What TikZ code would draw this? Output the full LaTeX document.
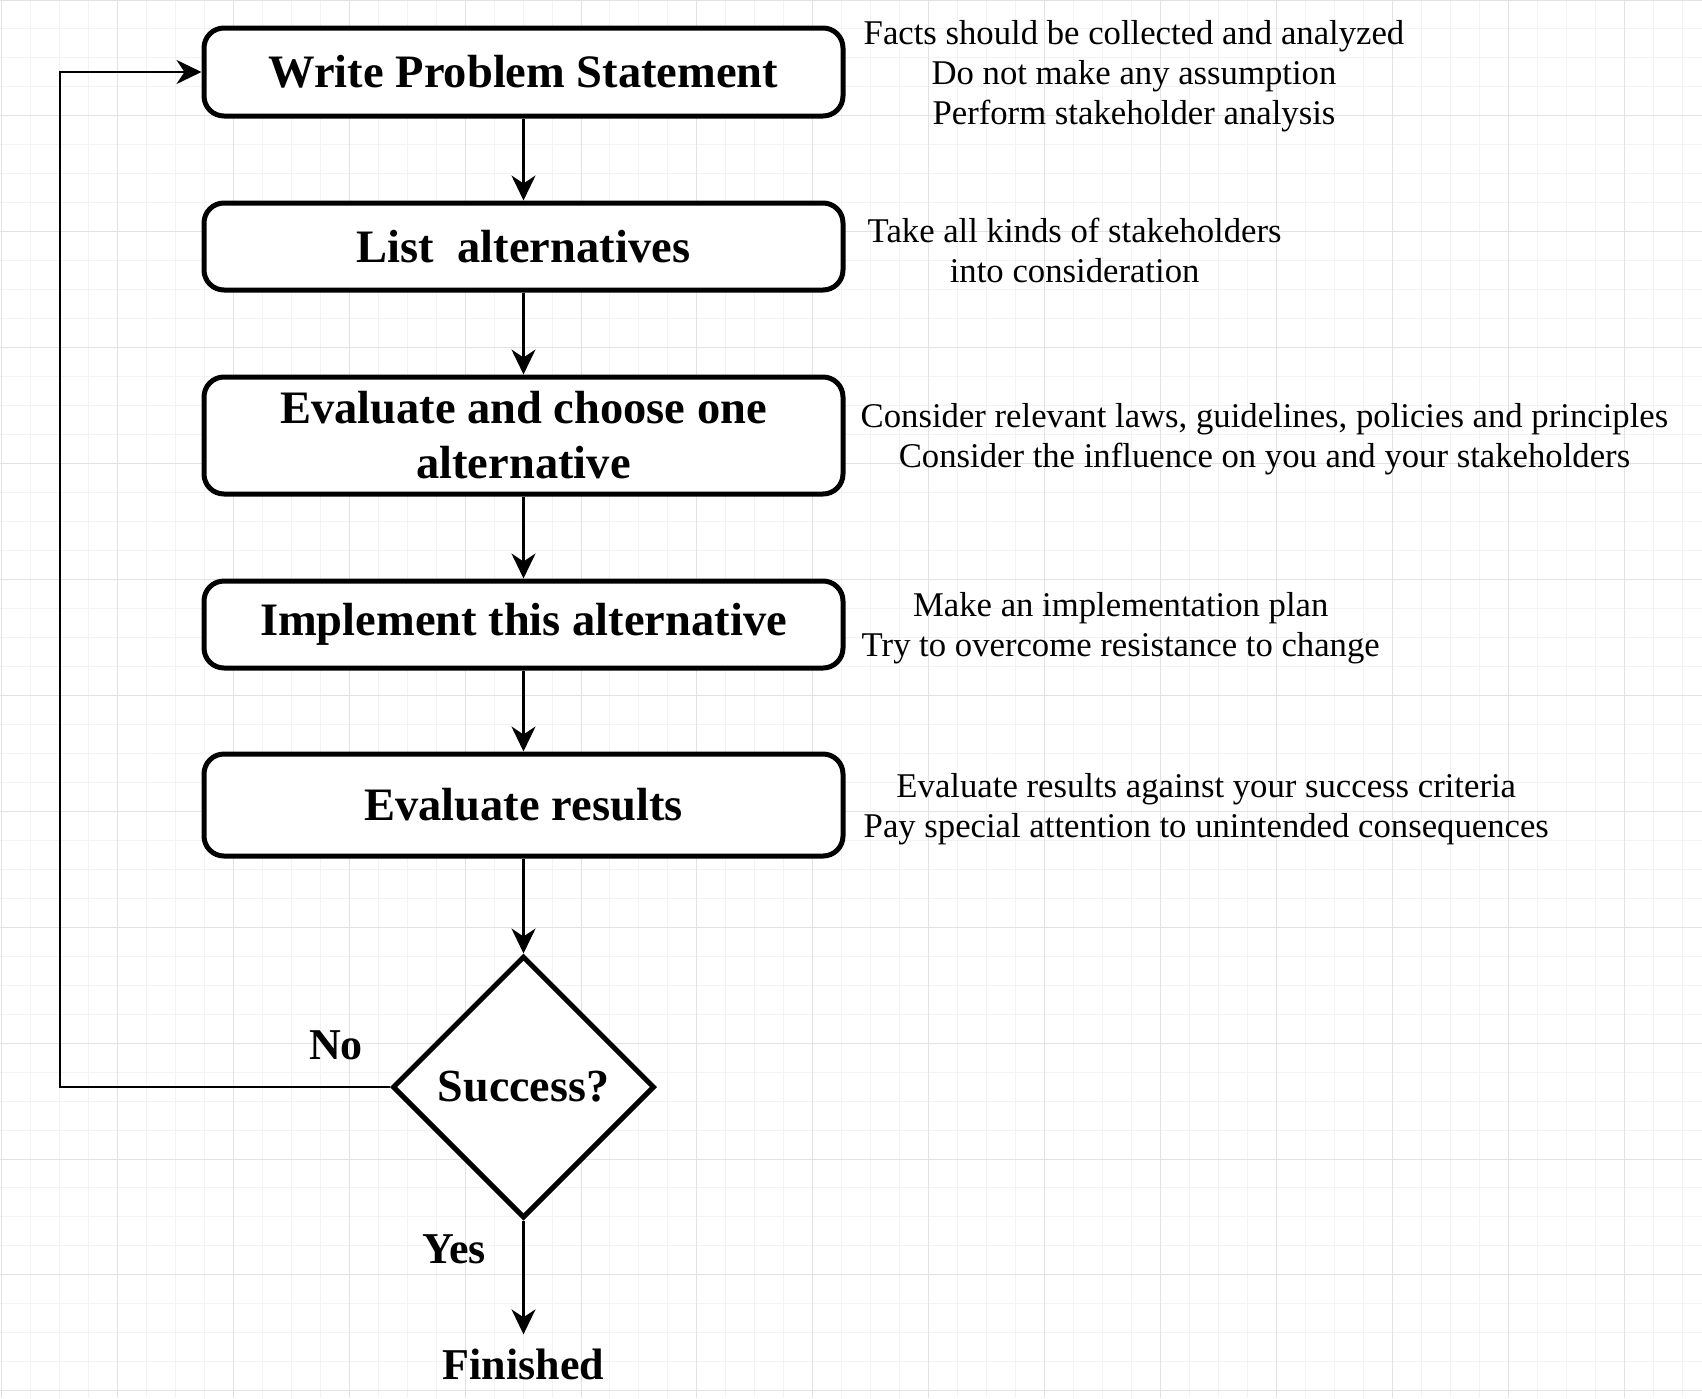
\documentclass[tikz,border=0pt]{standalone}
\usepackage{fontspec}
\setmainfont{Liberation Serif}
\usepackage{tikz}
\usetikzlibrary{positioning,calc,shapes.geometric,arrows.meta}
\definecolor{grid_minor}{RGB}{243,243,243}
\definecolor{grid_major}{RGB}{226,226,226}
\tikzset{
  stepbox/.style={draw, line width=5pt, rounded corners=20pt, fill=white,
    minimum width=639pt, align=center, inner sep=0pt,
    font=\fontsize{46.5}{55}\selectfont\bfseries},
  decision/.style={draw, diamond, aspect=1, line width=5pt, fill=white,
    minimum width=262pt, minimum height=262pt, inner sep=0pt,
    font=\fontsize{46}{55}\selectfont\bfseries},
  note/.style={anchor=west, align=center, inner sep=0pt,
    font=\fontsize{34.7}{40}\selectfont},
  answer/.style={inner sep=0pt, font=\fontsize{44}{52}\selectfont\bfseries},
  flow/.style={line width=2.7pt, -{Stealth[length=25pt,width=24pt,inset=8pt]}}
}

\begin{document}
\begin{tikzpicture}[x=1pt, y=-1pt]
        % Page and grid
        \useasboundingbox (0,0) rectangle (1702,1398);
        \fill[white] (0,0) rectangle (1702,1398);
        \foreach \i in {0,...,58} {
          \draw[grid_minor, line width=1pt] (1.5+\i*28.975,0) -- (1.5+\i*28.975,1398);
        }
        \foreach \j in {0,...,48} {
          \draw[grid_minor, line width=1pt] (0,\j*28.975) -- (1702,\j*28.975);
        }
        \foreach \i in {0,...,14} {
          \draw[grid_major, line width=1pt] (1.5+\i*115.9,0) -- (1.5+\i*115.9,1398);
        }
        \foreach \j in {0,...,12} {
          \draw[grid_major, line width=1pt] (0,\j*115.9) -- (1702,\j*115.9);
        }
        % Steps
        \node[stepbox, minimum height=88pt] (stmt) at (523.5,72) {Write Problem Statement};
        \node[stepbox, minimum height=87pt] (alts) at (523.5,246.5) {List\ \ alternatives};
        \node[stepbox, minimum height=117pt] (choose) at (523.5,435.5) {Evaluate and choose one\\alternative};
        \node[stepbox, minimum height=87pt] (impl) at (523.5,624.5) {Implement this alternative};
        \node[stepbox, minimum height=102pt] (results) at (523.5,805) {Evaluate results};
        \node[decision] (success) at (523.5,1087) {Success?};
        \node[answer, inner sep=14pt] (done) at (523.5,1364) {Finished};
        % Notes beside the steps
        \node[note] (note_stmt) at ([xshift=18pt,yshift=-4pt]stmt.east) {Facts should be collected and analyzed\\Do not make any assumption\\Perform stakeholder analysis};
        \node[note] (note_alts) at ([xshift=22pt,yshift=-4pt]alts.east) {Take all kinds of stakeholders\\into consideration};
        \node[note] (note_choose) at ([xshift=15pt,yshift=-4pt]choose.east) {Consider relevant laws, guidelines, policies and principles\\Consider the influence on you and your stakeholders};
        \node[note] (note_impl) at ([xshift=16pt,yshift=-4pt]impl.east) {Make an implementation plan\\Try to overcome resistance to change};
        \node[note] (note_results) at ([xshift=18pt,yshift=-4pt]results.east) {Evaluate results against your success criteria\\Pay special attention to unintended consequences};
        % Draw flow
        \draw[flow] (stmt) -- (alts);
        \draw[flow] (alts) -- (choose);
        \draw[flow] (choose) -- (impl);
        \draw[flow] (impl) -- (results);
        \draw[flow] (results) -- (success);
        \draw[flow] (success) -- (done);
        \coordinate (loop) at (60,1087);
        \draw[flow] (success.west) -- (loop) |- (stmt.west);
        % Label branches
        \node[answer] (no) at (336,1045) {No};
        \node[answer] (yes) at (454,1249) {Yes};
\end{tikzpicture}
\end{document}
